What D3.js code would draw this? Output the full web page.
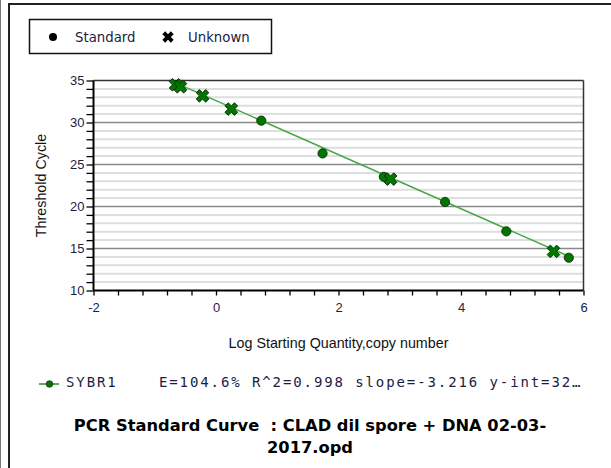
<!DOCTYPE html>
<html>
<head>
<meta charset="utf-8">
<script src="https://cdn.jsdelivr.net/npm/d3@7"></script>
<style>
  html, body { margin: 0; padding: 0; background: #fff; }
  svg { display: block; font-family: "DejaVu Sans", sans-serif; }
  .tick-label { fill: #1c1c44; font-size: 13px; }
  .axis-title { fill: #111; font-family: "Liberation Sans", Arial, sans-serif; font-size: 14.3px; }
  .legend-text { fill: #1c1c44; font-size: 13.3px; }
  .mono { font-family: "DejaVu Sans Mono", monospace; font-size: 14px; letter-spacing: 1.9px; fill: #1c1c44; white-space: pre; }
  .title { font-weight: bold; font-size: 16.3px; fill: #000; white-space: pre; }
</style>
</head>
<body>
<div id="chart"></div>
<script>
// Standards (circles) and unknowns (crosses)
const standardX = [0.74, 1.74, 2.74, 3.74, 4.74, 5.76];
const standardY = [30.22, 26.32, 23.53, 20.54, 17.04, 13.9];
const unknownX = [-0.66, -0.58, -0.22, 0.25, 2.85, 5.51];
const unknownY = [34.49, 34.25, 33.17, 31.6, 23.26, 14.65];

// Fit reported by the instrument
const fitSlope = -3.216;
const fitIntercept = 32.6;

const xTicks = [-2, 0, 2, 4, 6];
const yTicks = [10, 15, 20, 25, 30, 35];
const seriesName = 'SYBR1';
const fitText = 'E=104.6% R^2=0.998 slope=-3.216 y-int=32\u2026';
const titleLines = ['PCR Standard Curve  : CLAD dil spore + DNA 02-03-', '2017.opd'];

const W = 611, H = 468;
const svg = d3.select('#chart').append('svg').attr('width', W).attr('height', H);

// Panel frame
svg.append('rect').attr('width', W).attr('height', H).attr('fill', '#fff');
svg.append('line').attr('x1', 0.5).attr('x2', 0.5).attr('y1', 0).attr('y2', H).attr('stroke', '#777');
svg.append('line').attr('x1', 9).attr('x2', 9).attr('y1', 3).attr('y2', H).attr('stroke', '#222').attr('stroke-width', 2);
svg.append('line').attr('x1', 8).attr('x2', W).attr('y1', 4).attr('y2', 4).attr('stroke', '#222').attr('stroke-width', 2);

const x = d3.scaleLinear().domain([-2, 6]).range([93.5, 583.5]);
const y = d3.scaleLinear().domain([10, 35]).range([290.5, 80.5]);

// Horizontal grid, minor every 1, major every 5
const minor = d3.range(11, 35).filter(v => v % 5 !== 0);
svg.append('g').selectAll('line').data(minor).join('line')
  .attr('x1', x(-2)).attr('x2', x(6))
  .attr('y1', d => y(d)).attr('y2', d => y(d))
  .attr('stroke', '#dedede').attr('stroke-width', 2);
svg.append('g').selectAll('line').data(yTicks.filter(v => v > 10 && v < 35)).join('line')
  .attr('x1', x(-2)).attr('x2', x(6))
  .attr('y1', d => y(d)).attr('y2', d => y(d))
  .attr('stroke', '#8a8a8a').attr('stroke-width', 1.5);

// Plot frame top/right
svg.append('line').attr('x1', x(-2)).attr('x2', x(6)).attr('y1', y(35)).attr('y2', y(35)).attr('stroke', '#333').attr('stroke-width', 1.5);
svg.append('line').attr('x1', x(6)).attr('x2', x(6)).attr('y1', y(35)).attr('y2', y(10)).attr('stroke', '#333').attr('stroke-width', 1.5);

// Axes
const isMajorX = d => xTicks.some(t => Math.abs(t - d) < 1e-6);
const yAxis = svg.append('g').attr('transform', `translate(${x(-2)},0)`)
  .call(d3.axisLeft(y).tickValues(d3.range(10, 36)).tickSize(7).tickFormat(d => yTicks.includes(d) ? String(d) : ''));
const xAxis = svg.append('g').attr('transform', `translate(0,${y(10)})`)
  .call(d3.axisBottom(x).tickValues(d3.range(-2, 6.01, 0.4)).tickSize(5)
    .tickFormat(d => isMajorX(d) ? String(Math.round(d)) : ''));
[yAxis, xAxis].forEach(a => {
  a.select('.domain').attr('stroke', '#000').attr('stroke-width', 2);
  a.selectAll('.tick line').attr('stroke', '#000').attr('stroke-width', 1.3);
  a.selectAll('.tick text').attr('class', 'tick-label').attr('font-family', null).attr('font-size', null);
});
yAxis.selectAll('.tick text').attr('x', -9);
xAxis.selectAll('.tick text').attr('dy', '1.05em');
xAxis.select('.domain').attr('d', `M${x(-2)},0H${x(6)}`);
yAxis.select('.domain').attr('d', `M0,${y(35)}V${y(10)}`);

svg.append('text').attr('class', 'axis-title')
  .attr('transform', `translate(45.5,${(y(10) + y(35)) / 2}) rotate(-90)`)
  .attr('text-anchor', 'middle').text('Threshold Cycle');
svg.append('text').attr('class', 'axis-title')
  .attr('x', (x(-2) + x(6)) / 2).attr('y', 348)
  .attr('text-anchor', 'middle').text('Log Starting Quantity,copy number');

// Regression line across the data range
const allX = standardX.concat(unknownX);
const x0 = d3.min(allX), x1 = d3.max(allX);
svg.append('line')
  .attr('x1', x(x0)).attr('y1', y(fitIntercept + fitSlope * x0))
  .attr('x2', x(x1)).attr('y2', y(fitIntercept + fitSlope * x1))
  .attr('stroke', '#45a845').attr('stroke-width', 1.5);

const cross = d3.symbol().type(d3.symbolCross).size(100);

svg.append('g').selectAll('circle').data(standardX).join('circle')
  .attr('cx', d => x(d)).attr('cy', (d, i) => y(standardY[i])).attr('r', 4.6)
  .attr('fill', '#007800').attr('stroke', '#0b2a0b').attr('stroke-width', 0.9);

svg.append('g').selectAll('path').data(unknownX).join('path')
  .attr('d', cross)
  .attr('transform', (d, i) => `translate(${x(d)},${y(unknownY[i])}) rotate(45)`)
  .attr('fill', '#007800').attr('stroke', '#0b2a0b').attr('stroke-width', 0.9);

// Top legend
const lg = svg.append('g');
lg.append('rect').attr('x', 29.5).attr('y', 19.5).attr('width', 242).attr('height', 34)
  .attr('fill', '#fff').attr('stroke', '#111').attr('stroke-width', 1.5);
lg.append('circle').attr('cx', 53).attr('cy', 37).attr('r', 4).attr('fill', '#000');
lg.append('text').attr('class', 'legend-text').attr('x', 75).attr('y', 42).text('Standard');
lg.append('path').attr('d', d3.symbol().type(d3.symbolCross).size(80))
  .attr('transform', 'translate(168,37) rotate(45)').attr('fill', '#000');
lg.append('text').attr('class', 'legend-text').attr('x', 188).attr('y', 42).text('Unknown');

// Series legend with fit statistics
svg.append('line').attr('x1', 39).attr('x2', 59).attr('y1', 384).attr('y2', 384).attr('stroke', '#2e8b2e').attr('stroke-width', 1.5);
svg.append('circle').attr('cx', 49.5).attr('cy', 384).attr('r', 3.3).attr('fill', '#007800').attr('stroke', '#0b2a0b').attr('stroke-width', 0.7);
svg.append('text').attr('class', 'mono').attr('x', 66).attr('y', 387)
  .text(seriesName + '    ' + fitText);

// Title
svg.append('g').selectAll('text').data(titleLines).join('text')
  .attr('class', 'title').attr('text-anchor', 'middle')
  .attr('x', 310).attr('y', (d, i) => 431 + i * 21.5)
  .text(d => d);
</script>
</body>
</html>
